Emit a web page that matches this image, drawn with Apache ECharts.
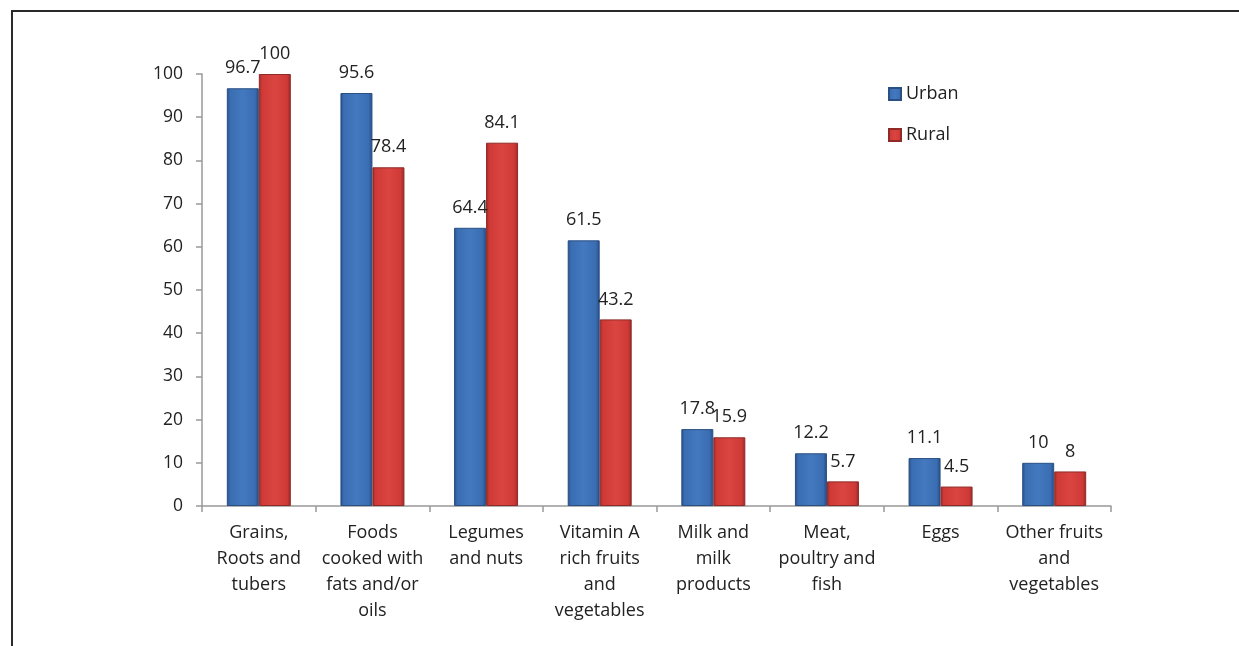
<!DOCTYPE html>
<html>
<head>
<meta charset="utf-8">
<style>
  html, body { margin: 0; padding: 0; background: #fff; }
  #chart { width: 1239px; height: 646px; }
</style>
<script src="https://cdn.jsdelivr.net/npm/echarts@6/dist/echarts.min.js"></script>
</head>
<body>
<div id="chart"></div>
<script>
// Food groups consumed, % of households by residence
const categories = [
  'Grains,\nRoots and\ntubers',
  'Foods\ncooked with\nfats and/or\noils',
  'Legumes\nand nuts',
  'Vitamin A\nrich fruits\nand\nvegetables',
  'Milk and\nmilk\nproducts',
  'Meat,\npoultry and\nfish',
  'Eggs',
  'Other fruits\nand\nvegetables'
];
const urban = [96.7, 95.6, 64.4, 61.5, 17.8, 12.2, 11.1, 10];
const rural = [100, 78.4, 84.1, 43.2, 15.9, 5.7, 4.5, 8];
const yTicks = { min: 0, max: 100, interval: 10 };

const FONT = '"Open Sans", "Noto Sans", sans-serif';

function bevel(edge, mid, hi) {
  return new echarts.graphic.LinearGradient(0, 0, 1, 0, [
    { offset: 0, color: edge },
    { offset: 0.1, color: mid },
    { offset: 0.5, color: hi },
    { offset: 0.88, color: mid },
    { offset: 1, color: edge }
  ]);
}

const chart = echarts.init(document.getElementById('chart'));
chart.setOption({
  animation: false,
  backgroundColor: '#fff',
  textStyle: { fontFamily: FONT },
  graphic: [{
    type: 'rect',
    shape: { x: 12, y: 11, width: 1400, height: 800 },
    style: { fill: 'none', stroke: '#2a2a2a', lineWidth: 2 },
    silent: true
  }],
  legend: {
    orient: 'vertical',
    left: 883,
    top: 79,
    itemWidth: 12,
    itemHeight: 12,
    itemGap: 21,
    icon: 'rect',
    textStyle: { fontSize: 18, color: '#222', fontFamily: FONT, lineHeight: 20 },
    data: ['Urban', 'Rural']
  },
  grid: { left: 202, right: 128, top: 74, bottom: 140, containLabel: false },
  xAxis: {
    type: 'category',
    data: categories,
    axisLine: { lineStyle: { color: '#999', width: 1.5 } },
    axisTick: { show: true, length: 6, lineStyle: { color: '#999', width: 1.5 } },
    axisLabel: {
      interval: 0,
      fontSize: 18,
      lineHeight: 26,
      color: '#222',
      margin: 14,
      fontFamily: FONT
    }
  },
  yAxis: {
    type: 'value',
    min: yTicks.min,
    max: yTicks.max,
    interval: yTicks.interval,
    splitLine: { show: false },
    axisLine: { show: true, lineStyle: { color: '#999', width: 1.5 } },
    axisTick: { show: true, length: 6, lineStyle: { color: '#999', width: 1.5 } },
    axisLabel: { fontSize: 17.5, color: '#222', margin: 19, fontFamily: FONT }
  },
  series: [
    {
      name: 'Urban',
      type: 'bar',
      data: urban,
      barWidth: 32,
      barGap: '0%',
      itemStyle: {
        color: bevel('#244d86', '#3a6db2', '#4479bf'),
        borderColor: '#2a4f82',
        borderWidth: 1
      },
      label: {
        show: true, position: 'top', distance: 11,
        fontSize: 18, color: '#222', fontFamily: FONT
      }
    },
    {
      name: 'Rural',
      type: 'bar',
      data: rural,
      barWidth: 32,
      barGap: '0%',
      itemStyle: {
        color: bevel('#972a27', '#cf3a37', '#da4542'),
        borderColor: '#8e2a27',
        borderWidth: 1
      },
      label: {
        show: true, position: 'top', distance: 11,
        fontSize: 18, color: '#222', fontFamily: FONT
      }
    }
  ]
});
</script>
</body>
</html>
